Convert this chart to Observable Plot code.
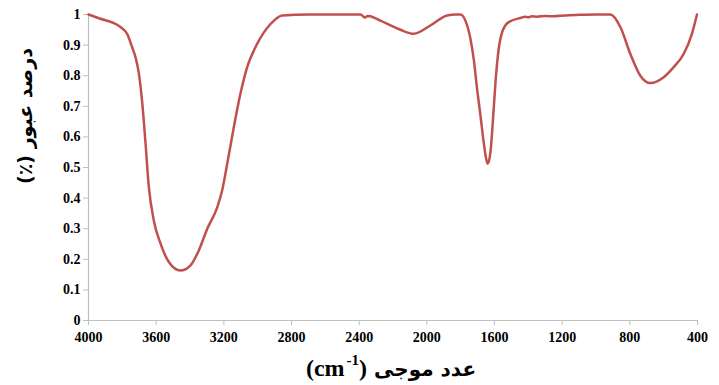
<!DOCTYPE html>
<html>
<head>
<meta charset="utf-8">
<script src="https://cdn.jsdelivr.net/npm/d3@7"></script>
<script src="https://cdn.jsdelivr.net/npm/@observablehq/plot@0.6"></script>
<style>
  html, body { margin: 0; padding: 0; background: #fff; }
  #wrap { position: relative; width: 719px; height: 385px; }
  .title { position: absolute; font-weight: bold; color: #000; white-space: nowrap; }
  #ytitle { left: 25px; top: 116px; transform: translate(-50%, -50%) rotate(-90deg);
            font-family: "DejaVu Sans", sans-serif; font-size: 19px; }
  #xtitle { left: 391px; top: 368px; transform: translate(-50%, -50%);
            font-family: "DejaVu Sans", sans-serif; font-size: 20px; }
  #xtitle .lat { font-family: "Liberation Serif", serif; font-size: 24px; unicode-bidi: isolate; }
  #xtitle .sup { display: inline-block; font-size: 15px; line-height: 15px;
                 vertical-align: top; margin-left: 2px; position: relative; top: -2px; }
</style>
</head>
<body>
<div id="wrap">
  <div id="ytitle" class="title" dir="rtl">درصد عبور (٪)</div>
  <div id="xtitle" class="title" dir="rtl">عدد موجی <span class="lat" dir="ltr">(cm<span class="sup">-1</span>)</span></div>
</div>
<script>
// IR transmittance spectrum: wavenumber (cm-1) and transmittance fraction
const wavenumber = [
  4000, 3930, 3850, 3811, 3770, 3742, 3722, 3703, 3683, 3663, 3644, 3614, 3574, 3525, 3456,
  3397, 3348, 3298, 3239, 3210, 3180, 3141, 3102, 3062, 3003, 2924, 2855, 2700, 2500,
  2392, 2365, 2350, 2333, 2318, 2274, 2156, 2077, 1979, 1880, 1831, 1801, 1772, 1742, 1723,
  1703, 1683, 1664, 1649, 1640, 1624, 1610, 1594, 1575, 1555, 1516, 1437, 1420, 1400,
  1380, 1350, 1300, 1250, 1192, 1100, 1000, 915, 856, 797, 738, 679, 600, 541, 482, 433, 403
];
const transmittance = [
  1.000, 0.986, 0.972, 0.959, 0.935, 0.893, 0.860, 0.810, 0.715, 0.580, 0.440, 0.327, 0.251, 0.191, 0.163,
  0.180, 0.229, 0.300, 0.370, 0.425, 0.512, 0.632, 0.741, 0.828, 0.904, 0.969, 0.997, 1.000, 1.000,
  1.000, 0.990, 0.995, 0.994, 0.991, 0.980, 0.950, 0.937, 0.964, 0.997, 1.000, 1.000, 0.980, 0.920, 0.855,
  0.757, 0.670, 0.583, 0.528, 0.512, 0.550, 0.648, 0.780, 0.888, 0.942, 0.975, 0.990, 0.993, 0.991,
  0.994, 0.993, 0.995, 0.994, 0.997, 0.999, 1.000, 1.000, 0.959, 0.871, 0.800, 0.776, 0.795, 0.828, 0.871, 0.937, 1.000
];
const xTicks = [4000, 3600, 3200, 2800, 2400, 2000, 1600, 1200, 800, 400];
const yTicks = [0, 0.1, 0.2, 0.3, 0.4, 0.5, 0.6, 0.7, 0.8, 0.9, 1];

const spectrum = wavenumber.map((w, i) => ({w, t: transmittance[i]}));
const axisGrey = "#bfbfbf";

const chart = Plot.plot({
  width: 719,
  height: 385,
  marginLeft: 88,
  marginRight: 22,
  marginTop: 14,
  marginBottom: 65,
  style: {fontFamily: "'Liberation Serif', serif", fontWeight: "bold", fontSize: "14px", color: "#000", background: "transparent"},
  x: {domain: [4000, 400]},
  y: {domain: [0, 1]},
  marks: [
    Plot.axisX({ticks: xTicks, tickFormat: d => String(d), tickSize: 5, tickPadding: 7, stroke: axisGrey, label: null}),
    Plot.axisY({ticks: yTicks, tickFormat: d => String(d), tickSize: 5, tickPadding: 3, stroke: axisGrey, label: null}),
    Plot.ruleY([0], {stroke: axisGrey, strokeWidth: 1.2}),
    Plot.ruleX([4000], {stroke: axisGrey, strokeWidth: 1.2}),
    Plot.line(spectrum, {x: "w", y: "t", stroke: "#C0504D", strokeWidth: 2.5, curve: "monotone-x"})
  ]
});
chart.style.position = "absolute";
chart.style.left = "0";
chart.style.top = "0";
document.getElementById("wrap").prepend(chart);
</script>
</body>
</html>
